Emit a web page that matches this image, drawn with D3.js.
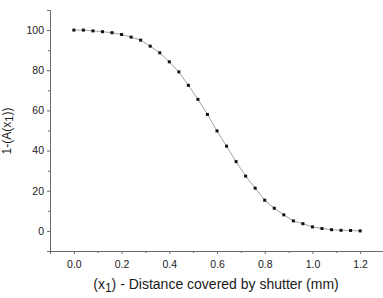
<!DOCTYPE html>
<html><head><meta charset="utf-8">
<script src="https://cdn.jsdelivr.net/npm/d3@7"></script>
<style>body{margin:0;background:#fff}svg{display:block}</style>
</head><body>
<svg id="c" width="383" height="298"></svg>
<script>
const xValues = [0,0.04,0.08,0.12,0.16,0.2,0.24,0.28,0.32,0.36,0.4,0.44,0.48,0.52,0.56,0.6,0.64,0.68,0.72,0.76,0.8,0.84,0.88,0.92,0.96,1.0,1.04,1.08,1.12,1.16,1.2];
const yValues = [100,100,99.6,99.2,98.7,97.8,96.5,95,92,88.7,84.2,79.2,72.5,65.5,58,49.8,42.2,34.5,27.3,21.3,15.3,11.3,8,5,3.6,2,1.2,0.6,0.3,0.2,0];
const xTicks = [0,0.2,0.4,0.6,0.8,1.0,1.2];
const yTicks = [0,20,40,60,80,100];
const xTitle = ["(x", "1", ") - Distance covered by shutter (mm)"];
const yTitle = ["1-(A(x", "1", "))"];

const svg = d3.select("#c");
const x = d3.scaleLinear().domain([-0.1,1.3]).range([50,384]);
const y = d3.scaleLinear().domain([-10,110]).range([251,10]);
const font = "'Liberation Sans', Arial, sans-serif";
const axisCol = "#6a6a6a";

svg.append("g").attr("transform","translate(50,0)")
  .call(d3.axisLeft(y).tickValues(yTicks).tickSize(3).tickPadding(3).tickFormat(d3.format("d")));
svg.append("g").attr("transform","translate(50,0)")
  .call(d3.axisLeft(y).tickValues(d3.range(-10,111,20)).tickSize(2).tickFormat(""))
  .select(".domain").remove();
svg.append("g").attr("transform","translate(0,251)")
  .call(d3.axisBottom(x).tickValues(xTicks).tickSize(3).tickPadding(7).tickFormat(d3.format(".1f")));
svg.append("g").attr("transform","translate(0,251)")
  .call(d3.axisBottom(x).tickValues([-0.1,0.1,0.3,0.5,0.7,0.9,1.1,1.3]).tickSize(2).tickFormat(""))
  .select(".domain").remove();

svg.selectAll(".domain").attr("stroke",axisCol).attr("stroke-width",1);
svg.selectAll(".tick line").attr("stroke",axisCol);
svg.selectAll(".tick text").attr("font-family",font).attr("font-size","10.5px").attr("fill","#1a1a1a");

const pts = xValues.map((v,i)=>[v,yValues[i]]);
svg.append("path").datum(pts)
  .attr("fill","none").attr("stroke","#8a8a8a").attr("stroke-width",0.8)
  .attr("d", d3.line().x(d=>x(d[0])).y(d=>y(d[1])));
svg.selectAll("rect.m").data(pts).enter().append("rect").attr("class","m")
  .attr("x",d=>x(d[0])-1.5).attr("y",d=>y(d[1])-1.5)
  .attr("width",3).attr("height",3).attr("fill","#111");

const xt = svg.append("text").attr("x",216).attr("y",289).attr("text-anchor","middle")
  .attr("font-family",font).attr("font-size","14px").attr("fill","#1a1a1a");
xt.append("tspan").text(xTitle[0]);
xt.append("tspan").text(xTitle[1]).attr("dy",3).attr("font-size","12px");
xt.append("tspan").text(xTitle[2]).attr("dy",-3);

const yt = svg.append("text").attr("transform","translate(11,131) rotate(-90)").attr("text-anchor","middle")
  .attr("font-family",font).attr("font-size","12px").attr("fill","#1a1a1a");
yt.append("tspan").text(yTitle[0]);
yt.append("tspan").text(yTitle[1]).attr("dy",2).attr("font-size","11px");
yt.append("tspan").text(yTitle[2]).attr("dy",-2);
</script>
</body></html>
